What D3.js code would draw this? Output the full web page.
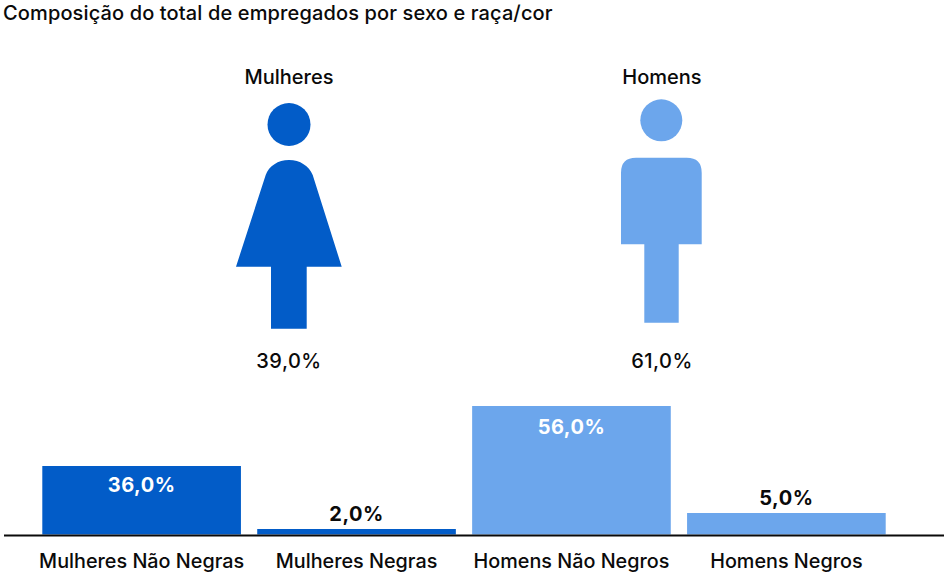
<!DOCTYPE html>
<html><head><meta charset="utf-8">
<style>html,body{margin:0;padding:0;background:#fff}svg{display:block}text{font-family:Inter,"Noto Sans",sans-serif}</style>
<script src="https://cdn.jsdelivr.net/npm/d3@7"></script></head><body>
<script>
const title = "Composição do total de empregados por sexo e raça/cor";
const categories = ["Mulheres Não Negras","Mulheres Negras","Homens Não Negros","Homens Negros"];
const values = [36,2,56,5];
const sexes = ["Mulheres","Homens"];
const sexShares = [39,61];
const colors = ["#025CC8","#025CC8","#6CA6EC","#6CA6EC"];
const sexColors = ["#025CC8","#6CA6EC"];
const fmt = v => v.toFixed(1).replace(".",",")+"%";
const W=944,H=573,ink="#0a0a0a";
const svg=d3.select("body").append("svg").attr("width",W).attr("height",H);
svg.append("text").attr("x",3).attr("y",20).attr("font-size",20).attr("font-weight",500).attr("letter-spacing",0.13).attr("fill",ink).text(title);
const x=d3.scaleBand().domain(categories).range([42.3,885.7]).paddingInner(0.0758);
// The reference's bars are not proportional to their labels: piecewise scale
const y=d3.scaleLinear().domain([0,2,5,36,56]).range([534.5,529,513,466,406]);
const insideDy=d3.scaleLinear().domain([36,56]).range([25.7,28.3]);
svg.selectAll("rect.b").data(categories).join("rect").attr("class","b")
 .attr("x",d=>x(d)).attr("width",x.bandwidth()).attr("y",(d,i)=>y(values[i])).attr("height",(d,i)=>y(0)-y(values[i])).attr("fill",(d,i)=>colors[i]);
svg.append("line").attr("x1",4).attr("x2",944).attr("y1",535.6).attr("y2",535.6).attr("stroke",ink).attr("stroke-width",2);
svg.selectAll("text.v").data(categories).join("text").attr("class","v").attr("text-anchor","middle")
 .attr("x",d=>x(d)+x.bandwidth()/2)
 .attr("y",(d,i)=> values[i]>20? y(values[i])+insideDy(values[i]) : y(values[i])-7.6)
 .attr("font-size",20).attr("font-weight",700).attr("letter-spacing",0.5)
 .attr("fill",(d,i)=>values[i]>20?"#fff":ink).text((d,i)=>fmt(values[i]));
svg.selectAll("text.c").data(categories).join("text").attr("class","c").attr("text-anchor","middle")
 .attr("x",d=>x(d)+x.bandwidth()/2).attr("y",568).attr("font-size",19.8).attr("font-weight",500).attr("fill",ink).text(d=>d);
const figs=[289,662];
svg.selectAll("text.s").data(sexes).join("text").attr("class","s").attr("text-anchor","middle").attr("x",(d,i)=>figs[i]).attr("y",84).attr("font-size",20).attr("font-weight",500).attr("fill",ink).text(d=>d);
svg.selectAll("text.p").data(sexShares).join("text").attr("class","p").attr("text-anchor","middle").attr("x",(d,i)=>figs[i]).attr("y",368).attr("font-size",20).attr("font-weight",500).attr("letter-spacing",0.5).attr("fill",ink).text(d=>fmt(d));
svg.append("circle").attr("cx",289).attr("cy",124.5).attr("r",21.5).attr("fill",sexColors[0]);
svg.append("path").attr("fill",sexColors[0]).attr("d","M271 328.7V266.7H236L265.7 175C269 166 278 160 289 160C300 160 309 166 312.7 175L341.7 266.7H306.7V328.7Z");
svg.append("circle").attr("cx",661.3).attr("cy",120.3).attr("r",21).attr("fill",sexColors[1]);
svg.append("path").attr("fill",sexColors[1]).attr("d","M644.3 322.7V244.3H621V172.7Q621 157.7 636 157.7H686.7Q701.7 157.7 701.7 172.7V244.3H678.7V322.7Z");
</script></body></html>
